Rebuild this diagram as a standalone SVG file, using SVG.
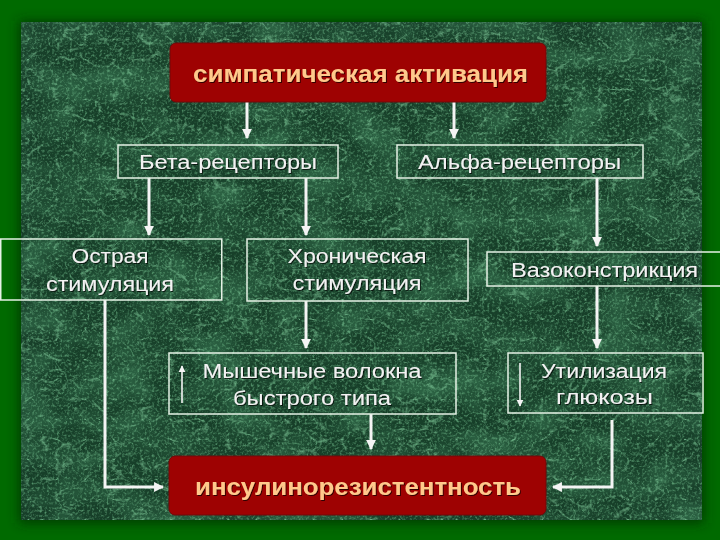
<svg xmlns="http://www.w3.org/2000/svg" width="720" height="540" viewBox="0 0 720 540">
  <defs>
    <style>
      .box { fill: none; stroke: #e6f2e6; stroke-width: 1.5; }
      .red { fill: #9e0202; stroke: #6e0a0a; stroke-width: 1; }
      .lbl { font-family: "Liberation Sans", Arial, sans-serif; font-size: 20px; fill: #f2f2f2; text-anchor: middle; }
      .big { font-family: "Liberation Sans", Arial, sans-serif; font-size: 24px; font-weight: bold; fill: #ffc98c; text-anchor: middle; }
      .con { fill: none; stroke: #f4f4f4; stroke-width: 3; }
      .thin { fill: none; stroke: #f4f4f4; stroke-width: 1.6; }
    </style>
    <marker id="ah" viewBox="0 0 10 10" refX="9" refY="5" markerWidth="3.3" markerHeight="3.3" orient="auto" markerUnits="strokeWidth">
      <path d="M0,0 L10,5 L0,10 z" fill="#f4f4f4"/>
    </marker>
    <marker id="ahs" viewBox="0 0 10 10" refX="9" refY="5" markerWidth="4.5" markerHeight="4.5" orient="auto" markerUnits="strokeWidth">
      <path d="M0,0 L10,5 L0,10 z" fill="#f4f4f4"/>
    </marker>
    <filter id="shadow" x="-10%" y="-10%" width="120%" height="120%">
      <feGaussianBlur stdDeviation="6"/>
    </filter>
    <filter id="ts" x="-5%" y="-20%" width="110%" height="140%">
      <feDropShadow dx="1" dy="1" stdDeviation="0.6" flood-color="#000" flood-opacity="0.7"/>
    </filter>
    <filter id="marble" filterUnits="userSpaceOnUse" x="21" y="22" width="681" height="498" color-interpolation-filters="sRGB">
      <feFlood flood-color="#173f29" result="base"/>
      <feTurbulence type="fractalNoise" baseFrequency="0.02 0.03" numOctaves="3" seed="5" result="n1"/>
      <feColorMatrix in="n1" type="matrix" values="0 0 0 0 0.17  0 0 0 0 0.38  0 0 0 0 0.26  2.4 0 0 0 -0.9" result="patch"/>
      <feTurbulence type="turbulence" baseFrequency="0.035 0.05" numOctaves="4" seed="11" result="t"/>
      <feColorMatrix in="t" type="matrix" values="0 0 0 0 0.5  0 0 0 0 0.78  0 0 0 0 0.6  -4.5 0 0 0 0.75" result="vein"/>
      <feTurbulence type="turbulence" baseFrequency="0.06 0.045" numOctaves="3" seed="23" result="t2"/>
      <feColorMatrix in="t2" type="matrix" values="0 0 0 0 0.42  0 0 0 0 0.7  0 0 0 0 0.52  -5 0 0 0 0.6" result="vein2"/>
      <feTurbulence type="fractalNoise" baseFrequency="0.4" numOctaves="2" seed="2" result="f"/>
      <feColorMatrix in="f" type="matrix" values="0 0 0 0 0.4  0 0 0 0 0.68  0 0 0 0 0.5  1.8 0 0 0 -0.85" result="speck"/>
      <feMerge>
        <feMergeNode in="base"/>
        <feMergeNode in="patch"/>
        <feMergeNode in="vein"/>
        <feMergeNode in="vein2"/>
        <feMergeNode in="speck"/>
      </feMerge>
    </filter>
  </defs>

  <!-- background -->
  <rect x="0" y="0" width="720" height="540" fill="#006a00"/>
  <rect x="19" y="21" width="685" height="502" fill="#002a00" opacity="0.75" filter="url(#shadow)"/>
  <rect x="21" y="22" width="681" height="498" fill="#1b452e" filter="url(#marble)"/>

  <!-- connectors -->
  <g id="connectors">
    <line class="con" x1="247" y1="102" x2="247" y2="138" marker-end="url(#ah)"/>
    <line class="con" x1="454" y1="102" x2="454" y2="138" marker-end="url(#ah)"/>
    <line class="con" x1="149" y1="178" x2="149" y2="235" marker-end="url(#ah)"/>
    <line class="con" x1="306" y1="178" x2="306" y2="235" marker-end="url(#ah)"/>
    <line class="con" x1="597" y1="178" x2="597" y2="246" marker-end="url(#ah)"/>
    <line class="con" x1="306" y1="301" x2="306" y2="348" marker-end="url(#ah)"/>
    <line class="con" x1="597" y1="286" x2="597" y2="348" marker-end="url(#ah)"/>
    <line class="con" x1="371" y1="414" x2="371" y2="449" marker-end="url(#ah)"/>
    <polyline class="con" points="105,300 105,487 163,487" marker-end="url(#ah)"/>
    <polyline class="con" points="612,420 612,487 553,487" marker-end="url(#ah)"/>
    <line class="thin" x1="182" y1="403" x2="182" y2="366" marker-end="url(#ahs)"/>
    <line class="thin" x1="520" y1="363" x2="520" y2="406" marker-end="url(#ahs)"/>
  </g>

  <g id="n-sympathetic">
    <rect class="red" x="170" y="43" width="376" height="59" rx="6"/>
    <text class="big" x="360.5" y="82" textLength="335" lengthAdjust="spacingAndGlyphs" filter="url(#ts)">симпатическая активация</text>
  </g>

  <g id="n-beta">
    <rect class="box" x="118" y="145" width="220" height="33"/>
    <text class="lbl" x="228" y="169" textLength="178" lengthAdjust="spacingAndGlyphs" filter="url(#ts)">Бета-рецепторы</text>
  </g>

  <g id="n-alpha">
    <rect class="box" x="397" y="145" width="246" height="33"/>
    <text class="lbl" x="519.5" y="169" textLength="203" lengthAdjust="spacingAndGlyphs" filter="url(#ts)">Альфа-рецепторы</text>
  </g>

  <g id="n-acute">
    <rect class="box" x="0.75" y="239" width="221" height="61"/>
    <text class="lbl" x="110" y="263" textLength="77" lengthAdjust="spacingAndGlyphs" filter="url(#ts)">Острая</text>
    <text class="lbl" x="110" y="291" textLength="128" lengthAdjust="spacingAndGlyphs" filter="url(#ts)">стимуляция</text>
  </g>

  <g id="n-chronic">
    <rect class="box" x="247" y="239" width="221" height="62"/>
    <text class="lbl" x="357" y="263" textLength="139" lengthAdjust="spacingAndGlyphs" filter="url(#ts)">Хроническая</text>
    <text class="lbl" x="357" y="290" textLength="129" lengthAdjust="spacingAndGlyphs" filter="url(#ts)">стимуляция</text>
  </g>

  <g id="n-vaso">
    <rect class="box" x="487" y="252" width="240" height="34"/>
    <text class="lbl" x="604.5" y="277" textLength="187" lengthAdjust="spacingAndGlyphs" filter="url(#ts)">Вазоконстрикция</text>
  </g>

  <g id="n-muscle">
    <rect class="box" x="169" y="353" width="287" height="61"/>
    <text class="lbl" x="312" y="378" textLength="219" lengthAdjust="spacingAndGlyphs" filter="url(#ts)">Мышечные волокна</text>
    <text class="lbl" x="312" y="405" textLength="158" lengthAdjust="spacingAndGlyphs" filter="url(#ts)">быстрого типа</text>
  </g>

  <g id="n-glucose">
    <rect class="box" x="508" y="353" width="195" height="60"/>
    <text class="lbl" x="604" y="378" textLength="126" lengthAdjust="spacingAndGlyphs" filter="url(#ts)">Утилизация</text>
    <text class="lbl" x="604.5" y="404" textLength="97" lengthAdjust="spacingAndGlyphs" filter="url(#ts)">глюкозы</text>
  </g>

  <g id="n-insulin">
    <rect class="red" x="169" y="456" width="377" height="59" rx="6"/>
    <text class="big" x="358" y="495" textLength="326" lengthAdjust="spacingAndGlyphs" filter="url(#ts)">инсулинорезистентность</text>
  </g>
</svg>
